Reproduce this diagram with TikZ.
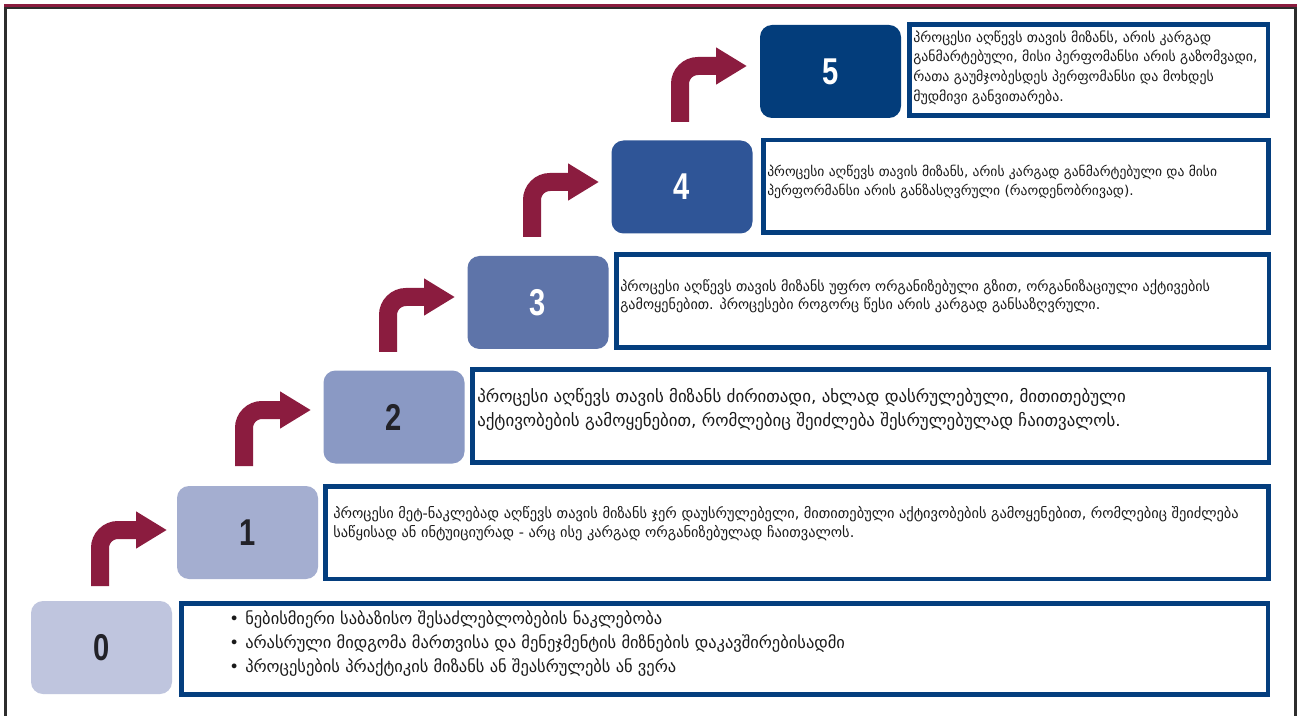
\documentclass[tikz,border=0pt]{standalone}
\usepackage{fontspec}
\usepackage{graphicx}
\setmainfont{DejaVu Sans}
\newfontfamily\numfont{Liberation Sans}
\usetikzlibrary{arrows.meta}
\definecolor{cA}{RGB}{191,197,222}
\definecolor{cB}{RGB}{164,174,208}
\definecolor{cC}{RGB}{138,153,196}
\definecolor{cD}{RGB}{94,116,169}
\definecolor{cE}{RGB}{47,85,151}
\definecolor{cF}{RGB}{3,61,123}
\definecolor{navy}{RGB}{4,62,126}
\definecolor{maroon}{RGB}{139,28,63}
\definecolor{framegray}{RGB}{45,45,45}
\definecolor{textc}{RGB}{26,26,26}
\definecolor{digdark}{RGB}{34,34,40}
\begin{document}
\begin{tikzpicture}[x=0.75pt,y=-0.75pt,
  numbox/.style={rounded corners=9pt, minimum width=105.75pt, minimum height=69.75pt, inner sep=0pt,
    font=\numfont\bfseries\fontsize{28}{28}\selectfont},
  tbox/.style={draw=navy, line width=3.4pt, inner sep=0pt},
  stair/.style={draw=maroon, line width=13.5pt, rounded corners=13.5pt,
    -{Triangle[width=26.25pt,length=23.25pt]}},
  txt/.style={anchor=west, align=left, inner sep=0pt, text=textc}]
\useasboundingbox (0,0) rectangle (1302,716);
\fill[white] (0,0) rectangle (1302,716);
% frame
\fill[maroon] (4,4) rectangle (1297,7);
\fill[framegray] (4,7) rectangle (1297,9);
\fill[framegray] (4,7) rectangle (7,716);
\fill[framegray] (1293.5,7) rectangle (1296.5,716);
% number boxes
\node[numbox, fill=cA, text=digdark] (n0) at (101.5,647.5) {\scalebox{0.78}[1]{0}};
\node[numbox, fill=cB, text=digdark] (n1) at (247.5,532.5) {\scalebox{0.78}[1]{1}};
\node[numbox, fill=cC, text=digdark] (n2) at (394,417) {\scalebox{0.78}[1]{2}};
\node[numbox, fill=cD, text=white] (n3) at (538,302.5) {\scalebox{0.78}[1]{3}};
\node[numbox, fill=cE, text=white] (n4) at (682,187) {\scalebox{0.78}[1]{4}};
\node[numbox, fill=cF, text=white] (n5) at (830.5,71.5) {\scalebox{0.78}[1]{5}};
% text boxes
\node[tbox, minimum width=814.9pt, minimum height=68.6pt] (t0) at (724.5,649) {};
\node[tbox, minimum width=707.6pt, minimum height=69.4pt] (t1) at (797,532.5) {};
\node[tbox, minimum width=597.4pt, minimum height=70.1pt] (t2) at (870.5,416) {};
\node[tbox, minimum width=489.4pt, minimum height=70.1pt] (t3) at (942.5,301) {};
\node[tbox, minimum width=379.1pt, minimum height=69.4pt] (t4) at (1016,186.5) {};
\node[tbox, minimum width=268.9pt, minimum height=68.6pt] (t5) at (1088.5,70) {};
% stair arrows
\coordinate (a1s) at (100,586);  \coordinate (a1e) at (167,530);
\coordinate (a2s) at (244,466);  \coordinate (a2e) at (311,410);
\coordinate (a3s) at (388,352);  \coordinate (a3e) at (455,297);
\coordinate (a4s) at (532,237);  \coordinate (a4e) at (599,182);
\coordinate (a5s) at (680,122);  \coordinate (a5e) at (747,66);
\draw[stair] (a1s) |- (a1e);
\draw[stair] (a2s) |- (a2e);
\draw[stair] (a3s) |- (a3e);
\draw[stair] (a4s) |- (a4e);
\draw[stair] (a5s) |- (a5e);
% texts
\node[txt, font=\fontsize{10.4}{14.8}\selectfont] (x5) at (913,67.5)
 {პროცესი აღწევს თავის მიზანს, არის კარგად\\
  განმარტებული, მისი პერფომანსი არის გაზომვადი,\\
  რათა გაუმჯობესდეს პერფომანსი და მოხდეს\\
  მუდმივი განვითარება.};
\node[txt, font=\fontsize{10.2}{14.25}\selectfont] (x4) at (767,181.5)
 {პროცესი აღწევს თავის მიზანს, არის კარგად განმარტებული და მისი\\
  პერფორმანსი არის განზასღვრული (რაოდენობრივად).};
\node[txt, font=\fontsize{10.6}{13.5}\selectfont] (x3) at (620,296)
 {პროცესი აღწევს თავის მიზანს უფრო ორგანიზებული გზით, ორგანიზაციული აქტივების\\
  გამოყენებით. პროცესები როგორც წესი არის კარგად განსაზღვრული.};
\node[txt, font=\fontsize{12.65}{18}\selectfont] (x2) at (477,409.5)
 {პროცესი აღწევს თავის მიზანს ძირითადი, ახლად დასრულებული, მითითებული\\
  აქტივობების გამოყენებით, რომლებიც შეიძლება შესრულებულად ჩაითვალოს.};
\node[txt, font=\fontsize{10.8}{14.25}\selectfont] (x1) at (333,524)
 {პროცესი მეტ-ნაკლებად აღწევს თავის მიზანს ჯერ დაუსრულებელი, მითითებული აქტივობების გამოყენებით, რომლებიც შეიძლება\\
  საწყისად ან ინტუიციურად - არც ისე კარგად ორგანიზებულად ჩაითვალოს.};
\node[txt, font=\fontsize{12.35}{18}\selectfont] (x0) at (229,644)
 {\makebox[12pt][l]{•}ნებისმიერი საბაზისო შესაძლებლობების ნაკლებობა\\
  \makebox[12pt][l]{•}არასრული მიდგომა მართვისა და მენეჯმენტის მიზნების დაკავშირებისადმი\\
  \makebox[12pt][l]{•}პროცესების პრაქტიკის მიზანს ან შეასრულებს ან ვერა};
\end{tikzpicture}
\end{document}
